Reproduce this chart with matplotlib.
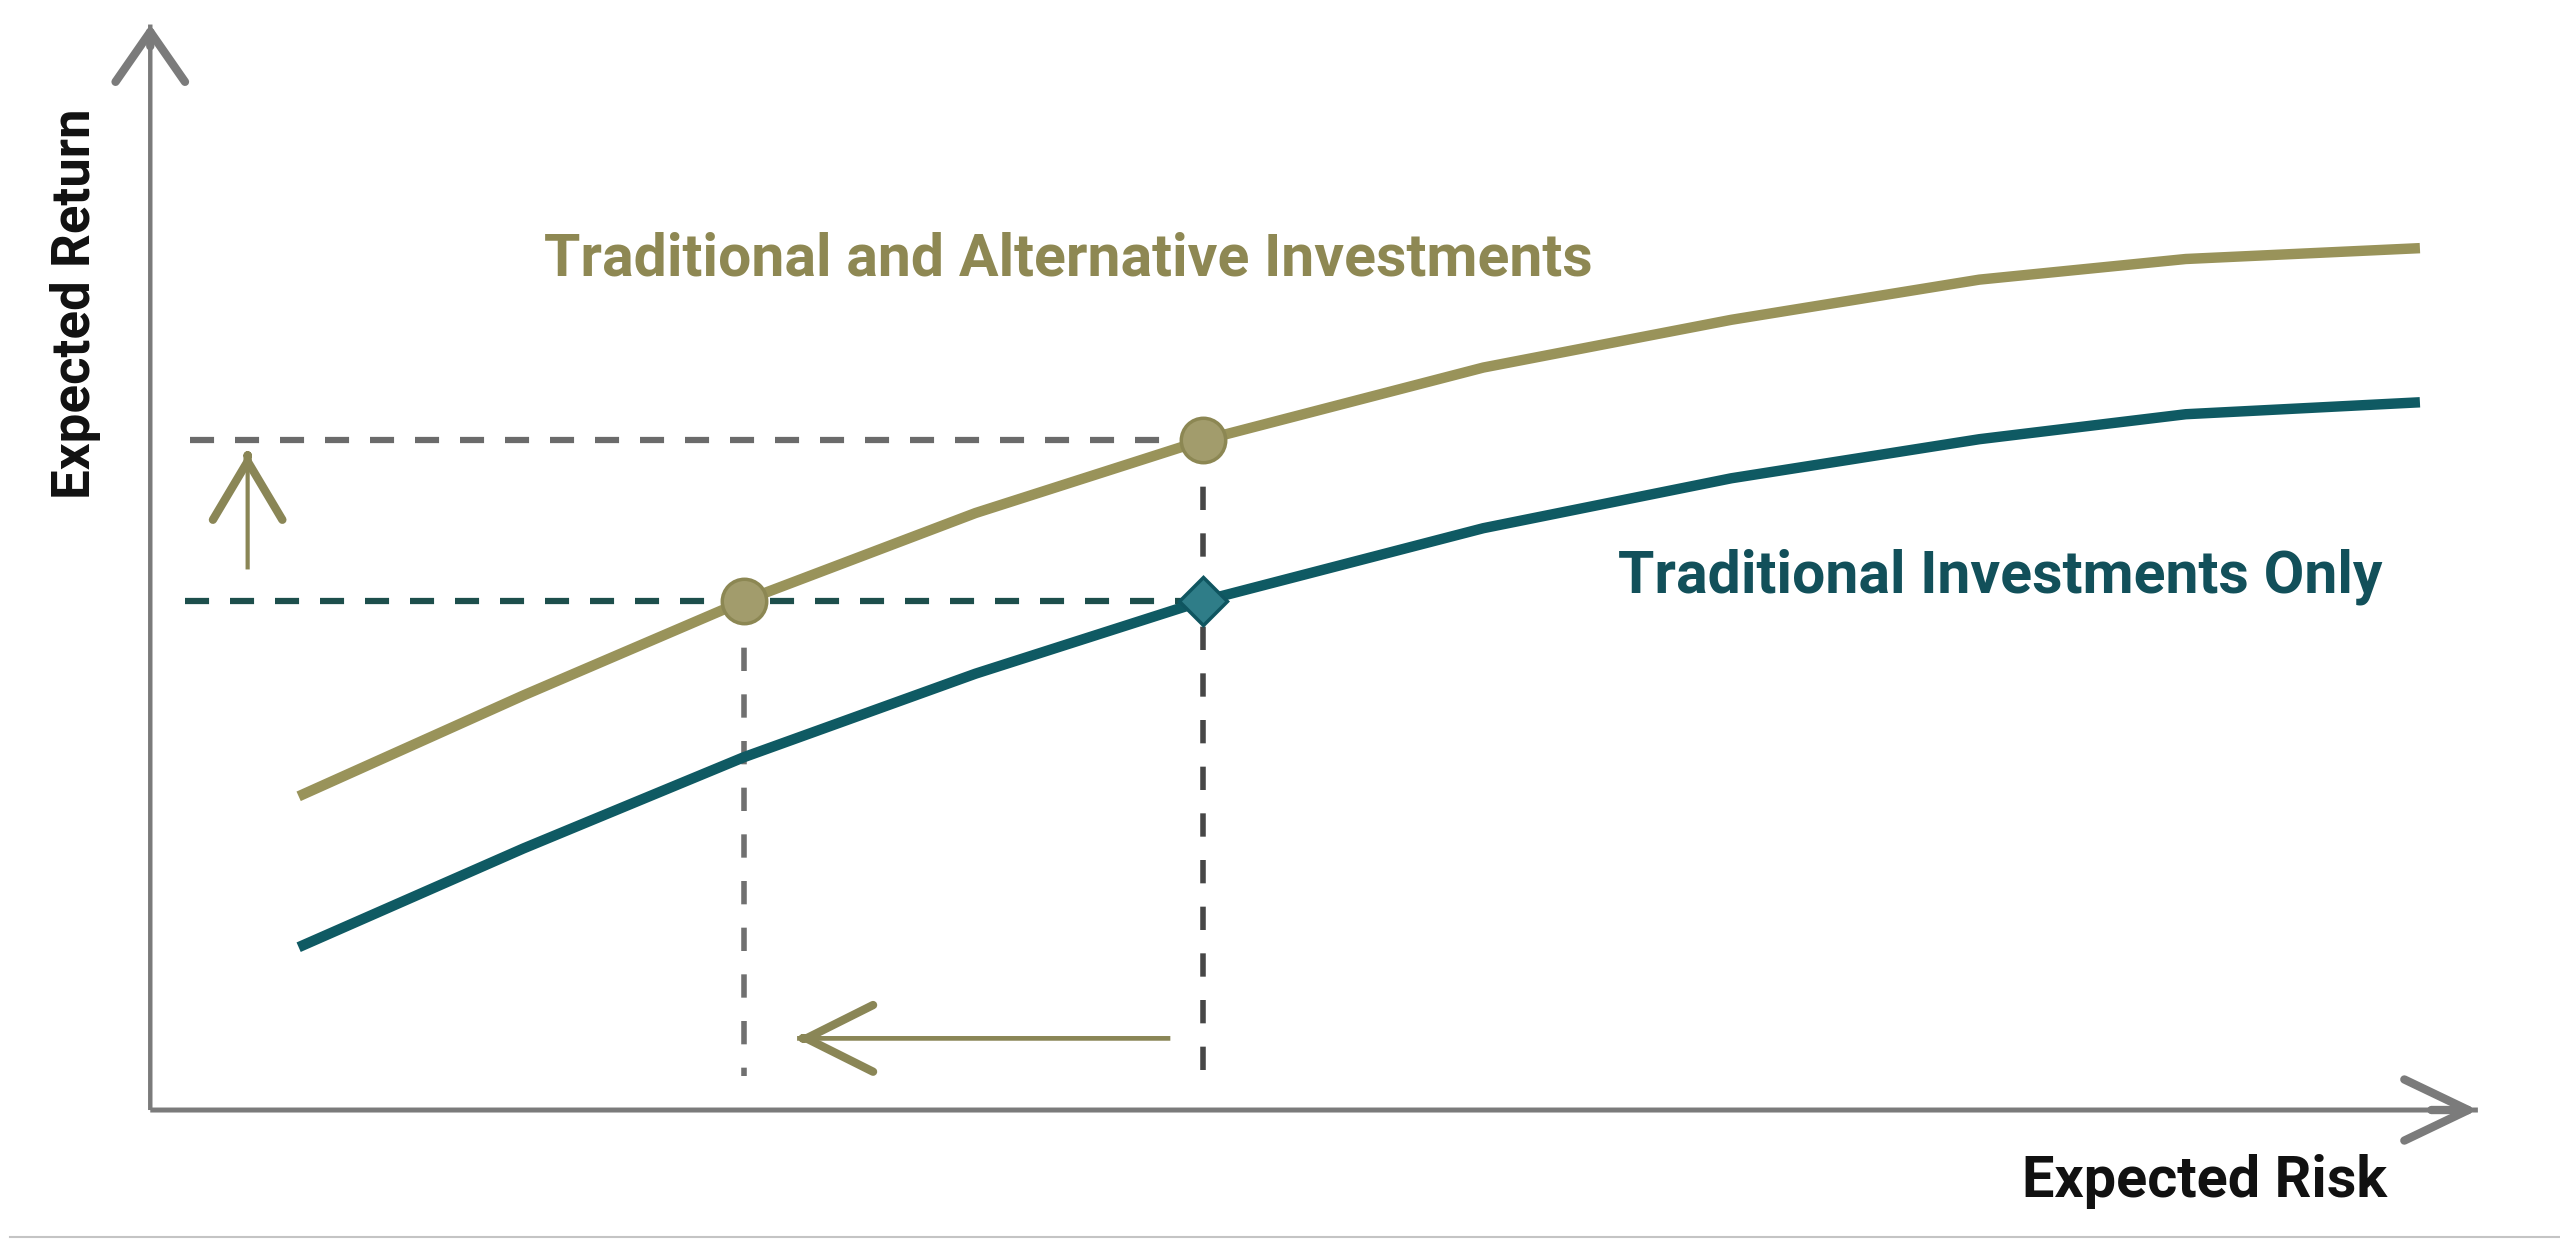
import matplotlib
matplotlib.use("Agg")
import matplotlib.pyplot as plt
from matplotlib.lines import Line2D

# Risk / return frontiers, arbitrary units (0-10 on both axes)
risk = [0.64, 1.61, 2.56, 3.56, 4.54, 5.75, 6.82, 7.89, 8.78, 9.79]
return_with_alts = [2.89, 3.82, 4.69, 5.50, 6.17, 6.84, 7.28, 7.65, 7.84, 7.94]
return_traditional = [1.50, 2.41, 3.25, 4.02, 4.69, 5.36, 5.82, 6.18, 6.41, 6.52]

# the two portfolios being compared (positions in the risk list)
lower_risk_idx = 2     # same return, less risk once alternatives are added
same_risk_idx = 4      # same risk, more return once alternatives are added

series_labels = ["Traditional and Alternative Investments", "Traditional Investments Only"]
x_label = "Expected Risk"
y_label = "Expected Return"

GOLD = "#99935a"
GOLD_TEXT = "#8e8853"
TEAL = "#0f5a63"
TEAL_TEXT = "#12505a"
AXIS_GREY = "#7b7b7b"
FONT = ["Roboto", "DejaVu Sans"]


def draw_arrow(ax, start, end, color, shaft_lw, head_lw, head_length, head_width):
    # shaft and head drawn separately so the chevron can be heavier than the line
    ax.annotate("", xy=end, xytext=start,
                arrowprops=dict(arrowstyle="-", color=color, lw=shaft_lw,
                                shrinkA=0, shrinkB=0, capstyle="butt"),
                annotation_clip=False)
    near = (end[0] - (end[0] - start[0]) * 0.02, end[1] - (end[1] - start[1]) * 0.02)
    ax.annotate("", xy=end, xytext=near,
                arrowprops=dict(arrowstyle=f"->,head_length={head_length},head_width={head_width}",
                                color=color, lw=head_lw, mutation_scale=1,
                                shrinkA=0, shrinkB=0, joinstyle="round", capstyle="round"),
                annotation_clip=False)


def main():
    fig = plt.figure(figsize=(25.6, 12.39), dpi=100)
    ax = fig.add_axes([0.0587, 0.1041, 0.9056, 0.8761])
    ax.set_xlim(0, 10)
    ax.set_ylim(0, 10)
    ax.set_axis_off()

    x_lo = risk[lower_risk_idx]
    x_same = risk[same_risk_idx]
    y_alt = return_with_alts[same_risk_idx]
    y_trad = return_traditional[same_risk_idx]

    # guide lines from the highlighted portfolios back to the axes
    dash = (0, (3.85, 3.35))
    ax.plot([0.17, x_same], [y_alt, y_alt], color="#6b6b6b", lw=4.5, linestyle=dash, zorder=1)
    ax.plot([0.15, x_same], [y_trad, y_trad], color="#1d4f4c", lw=4.5, linestyle=dash, zorder=1)
    vdash = (0, (4.2, 4.2))
    ax.plot([x_lo, x_lo], [return_with_alts[lower_risk_idx], 0.31], color="#707070",
            lw=4, linestyle=vdash, zorder=1)
    ax.plot([x_same, x_same], [y_alt, 0.33], color="#474747", lw=4, linestyle=vdash, zorder=1)

    # frontiers
    ax.plot(risk, return_with_alts, color=GOLD, lw=7.5, solid_capstyle="butt",
            solid_joinstyle="round", zorder=3)
    ax.plot(risk, return_traditional, color=TEAL, lw=7.5, solid_capstyle="butt",
            solid_joinstyle="round", zorder=3)

    # highlighted portfolios
    ax.plot([x_lo, x_same], [return_with_alts[lower_risk_idx], y_alt], "o", ms=32,
            color="#a29c6c", mec="#8c8753", mew=2.5, zorder=4)
    ax.plot([x_same], [y_trad], "D", ms=24, color="#2f7d88", mec="#0f5560", mew=2.5, zorder=4)

    # axes drawn as open arrows
    draw_arrow(ax, (0, 0), (0, 10), AXIS_GREY, 3.2, 6, 36, 25)
    draw_arrow(ax, (0, 0), (10.04, 0), AXIS_GREY, 3.6, 6, 46, 22)

    # shift arrows: return goes up, risk goes down
    draw_arrow(ax, (0.42, 4.98), (0.42, 6.05), "#8a8656", 3.0, 6, 42, 25)
    draw_arrow(ax, (4.40, 0.66), (2.79, 0.66), "#8a8656", 3.4, 6, 48, 24)

    ax.text(3.96, 7.69, series_labels[0], color=GOLD_TEXT, fontsize=42.5, fontweight="bold",
            family=FONT, ha="center", va="baseline")
    ax.text(7.98, 4.77, series_labels[1], color=TEAL_TEXT, fontsize=42.5, fontweight="bold",
            family=FONT, ha="center", va="baseline")
    ax.text(8.86, -0.80, x_label, color="#111111", fontsize=41.5, fontweight="bold",
            family=FONT, ha="center", va="baseline", clip_on=False)
    ax.text(-0.26, 7.43, y_label, color="#111111", fontsize=38, fontweight="bold",
            family=FONT, ha="center", va="baseline", rotation=90, rotation_mode="anchor",
            clip_on=False)

    # thin frame line along the bottom edge
    fig.add_artist(Line2D([0.004, 1.0], [0.0016, 0.0016], color="#c4c4c4", lw=1.5))

    fig.savefig("out.png", dpi=100, facecolor="white")
    plt.close(fig)


if __name__ == "__main__":
    main()
